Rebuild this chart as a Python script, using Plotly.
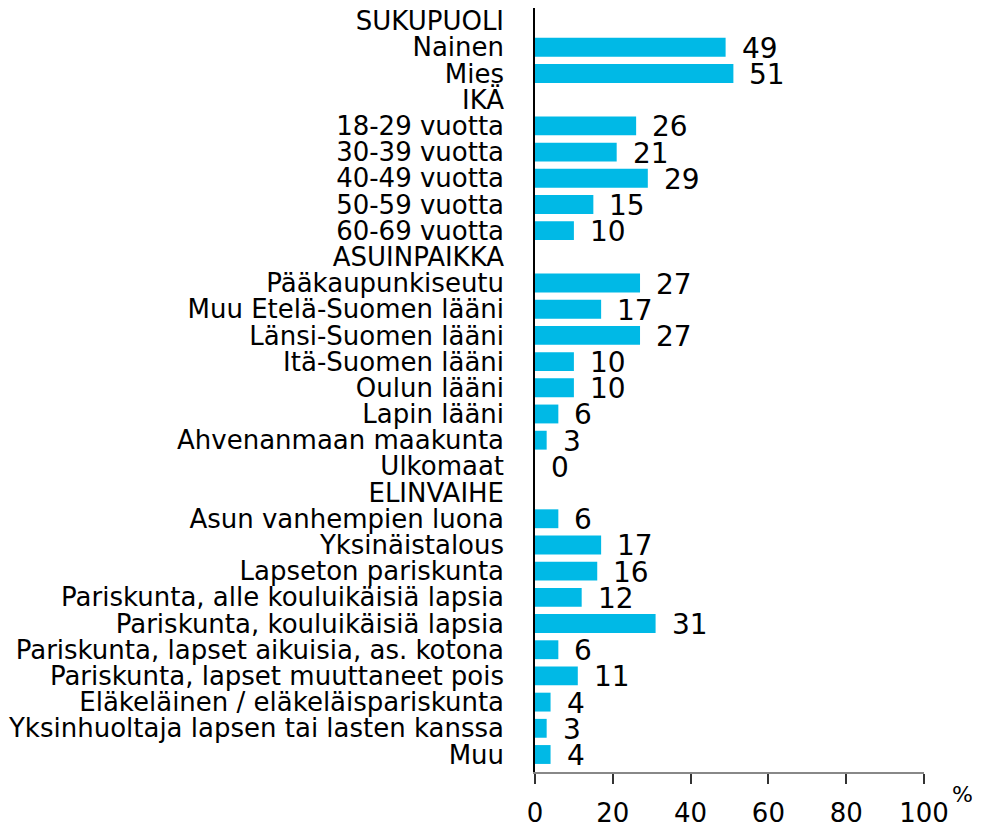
import plotly.graph_objects as go

categories = [
    "SUKUPUOLI", "Nainen", "Mies",
    "IKÄ", "18-29 vuotta", "30-39 vuotta", "40-49 vuotta", "50-59 vuotta", "60-69 vuotta",
    "ASUINPAIKKA", "Pääkaupunkiseutu", "Muu Etelä-Suomen lääni", "Länsi-Suomen lääni",
    "Itä-Suomen lääni", "Oulun lääni", "Lapin lääni", "Ahvenanmaan maakunta", "Ulkomaat",
    "ELINVAIHE", "Asun vanhempien luona", "Yksinäistalous", "Lapseton pariskunta",
    "Pariskunta, alle kouluikäisiä lapsia", "Pariskunta, kouluikäisiä lapsia",
    "Pariskunta, lapset aikuisia, as. kotona", "Pariskunta, lapset muuttaneet pois",
    "Eläkeläinen / eläkeläispariskunta", "Yksinhuoltaja lapsen tai lasten kanssa", "Muu",
]
values = [
    None, 49, 51,
    None, 26, 21, 29, 15, 10,
    None, 27, 17, 27, 10, 10, 6, 3, 0,
    None, 6, 17, 16, 12, 31, 6, 11, 4, 3, 4,
]
x_ticks = [0, 20, 40, 60, 80, 100]

FONT = "DejaVu Sans"
BAR_COLOR = "#00B9E6"

fig = go.Figure()
fig.add_trace(go.Bar(
    x=values, y=categories, orientation="h",
    marker=dict(color=BAR_COLOR, line=dict(width=0)),
    width=0.72, hoverinfo="x+y",
))

for c, v in zip(categories, values):
    if v is None:
        continue
    fig.add_annotation(
        x=v, y=c, xref="x", yref="y", text=str(v), showarrow=False,
        xanchor="left", yanchor="middle", xshift=14, yshift=-1,
        font=dict(family=FONT, size=28, color="black"),
    )

fig.add_annotation(
    x=1.0, y=0, xref="paper", yref="paper", text="%", showarrow=False,
    xanchor="right", yanchor="middle", xshift=51, yshift=-22,
    font=dict(family=FONT, size=22, color="black"),
)

# page body has an 8px margin, so the figure is sized to fit the window
fig.update_layout(
    width=976, height=821,
    margin=dict(l=527, r=60, t=0, b=57, autoexpand=False),
    paper_bgcolor="white", plot_bgcolor="white",
    showlegend=False,
    xaxis=dict(
        range=[0, 100], tickmode="array", tickvals=x_ticks,
        ticktext=[str(t) for t in x_ticks],
        showgrid=False, zeroline=False, automargin=False,
        showline=True, linecolor="#888888", linewidth=1.5,
        ticks="outside", ticklen=10, tickcolor="#333333", tickwidth=1.5,
        ticklabelstandoff=7,
        tickfont=dict(family=FONT, size=26, color="black"),
    ),
    yaxis=dict(
        categoryorder="array", categoryarray=categories,
        tickmode="array", tickvals=categories, ticktext=categories,
        autorange="reversed", automargin=False,
        showgrid=False, zeroline=False,
        showline=True, linecolor="black", linewidth=1.5,
        ticks="", ticklabelstandoff=24,
        tickfont=dict(family=FONT, size=26, color="black"),
    ),
)

fig.write_html("out.html")
